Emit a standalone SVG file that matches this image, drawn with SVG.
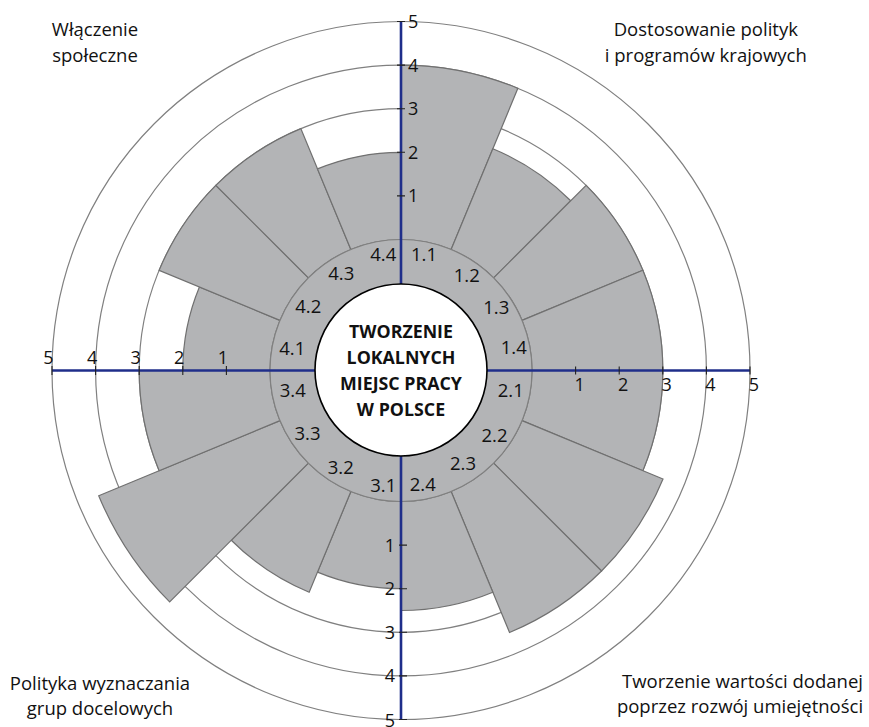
<svg xmlns="http://www.w3.org/2000/svg" width="869" height="727" viewBox="0 0 869 727">
<style>
.bg{fill:#ffffff}
.grid{fill:none;stroke:#808080;stroke-width:1.2}
.bar{fill:#b3b4b6;stroke:#707070;stroke-width:1.2;stroke-linejoin:miter}
.ring{fill:#b3b4b6;stroke:#808080;stroke-width:1.2}
.axis{stroke:#1f2e8a;stroke-width:2.6;fill:none}
.tick{stroke:#222;stroke-width:1.1}
.hub{fill:#ffffff;stroke:#000;stroke-width:1.6}
.t{font-family:"Open Sans","Noto Sans","Liberation Sans",sans-serif;fill:#111}
.num{font-size:18px}
.seg{font-size:18.5px;text-anchor:middle}
.corner{font-size:18.5px;text-anchor:middle}
.title{font-size:17.8px;font-weight:bold;text-anchor:middle}
</style>
<rect class="bg" x="0" y="0" width="869" height="727"/>
<g id="grid">
<circle class="grid" cx="401" cy="370.5" r="261.8"/>
<circle class="grid" cx="401" cy="370.5" r="305.4"/>
<circle class="grid" cx="401" cy="370.5" r="349"/>
</g>
<g id="bars">
<path id="bar-1.1" class="bar" d="M401,239.5 L401,65.1 A305.4,305.4 0 0 1 517.87,88.35 L451.13,249.47 A131,131 0 0 0 401,239.5 Z"/>
<path id="bar-1.2" class="bar" d="M451.13,249.47 L492.84,148.77 A240,240 0 0 1 570.71,200.79 L493.63,277.87 A131,131 0 0 0 451.13,249.47 Z"/>
<path id="bar-1.3" class="bar" d="M493.63,277.87 L586.12,185.38 A261.8,261.8 0 0 1 642.87,270.31 L522.03,320.37 A131,131 0 0 0 493.63,277.87 Z"/>
<path id="bar-1.4" class="bar" d="M522.03,320.37 L642.87,270.31 A261.8,261.8 0 0 1 662.8,370.5 L532,370.5 A131,131 0 0 0 522.03,320.37 Z"/>
<path id="bar-2.1" class="bar" d="M532,370.5 L662.8,370.5 A261.8,261.8 0 0 1 642.87,470.69 L522.03,420.63 A131,131 0 0 0 532,370.5 Z"/>
<path id="bar-2.2" class="bar" d="M522.03,420.63 L663.01,479.03 A283.6,283.6 0 0 1 601.54,571.04 L493.63,463.13 A131,131 0 0 0 522.03,420.63 Z"/>
<path id="bar-2.3" class="bar" d="M493.63,463.13 L601.54,571.04 A283.6,283.6 0 0 1 509.53,632.51 L451.13,491.53 A131,131 0 0 0 493.63,463.13 Z"/>
<path id="bar-2.4" class="bar" d="M451.13,491.53 L492.84,592.23 A240,240 0 0 1 401,610.5 L401,501.5 A131,131 0 0 0 451.13,491.53 Z"/>
<path id="bar-3.1" class="bar" d="M401,501.5 L401,588.7 A218.2,218.2 0 0 1 317.5,572.09 L350.87,491.53 A131,131 0 0 0 401,501.5 Z"/>
<path id="bar-3.2" class="bar" d="M350.87,491.53 L309.16,592.23 A240,240 0 0 1 231.29,540.21 L308.37,463.13 A131,131 0 0 0 350.87,491.53 Z"/>
<path id="bar-3.3" class="bar" d="M308.37,463.13 L169.63,601.87 A327.2,327.2 0 0 1 98.71,495.71 L279.97,420.63 A131,131 0 0 0 308.37,463.13 Z"/>
<path id="bar-3.4" class="bar" d="M279.97,420.63 L159.13,470.69 A261.8,261.8 0 0 1 139.2,370.5 L270,370.5 A131,131 0 0 0 279.97,420.63 Z"/>
<path id="bar-4.1" class="bar" d="M270,370.5 L182.8,370.5 A218.2,218.2 0 0 1 199.41,287 L279.97,320.37 A131,131 0 0 0 270,370.5 Z"/>
<path id="bar-4.2" class="bar" d="M279.97,320.37 L159.13,270.31 A261.8,261.8 0 0 1 215.88,185.38 L308.37,277.87 A131,131 0 0 0 279.97,320.37 Z"/>
<path id="bar-4.3" class="bar" d="M308.37,277.87 L215.88,185.38 A261.8,261.8 0 0 1 300.81,128.63 L350.87,249.47 A131,131 0 0 0 308.37,277.87 Z"/>
<path id="bar-4.4" class="bar" d="M350.87,249.47 L317.5,168.91 A218.2,218.2 0 0 1 401,152.3 L401,239.5 A131,131 0 0 0 350.87,249.47 Z"/>
</g>
<g id="ring">
<circle class="ring" cx="401" cy="370.5" r="131"/>
</g>
<g id="axes">
<line class="axis" x1="401" y1="21.5" x2="401" y2="719.5"/>
<line class="axis" x1="52" y1="370.5" x2="750" y2="370.5"/>
</g>
<g id="ticks">
<path class="tick" d="M397,195.9h8M397,152.3h8M397,108.7h8M397,65.1h8M397,21.5h8"/>
<path class="tick" d="M399,545.1h8M399,588.7h8M399,632.3h8M399,675.9h8M399,719.5h8"/>
<path class="tick" d="M575.6,366.5v8M619.2,366.5v8M662.8,366.5v8M706.4,366.5v8M750,366.5v8"/>
<path class="tick" d="M226.4,366v9M182.8,366v9M139.2,366v9M95.6,366v9M52,366v9"/>
</g>
<g id="hub">
<circle class="hub" cx="401" cy="370" r="86"/>
<text class="t title" x="401" y="338.3">TWORZENIE</text>
<text class="t title" x="401" y="364.3">LOKALNYCH</text>
<text class="t title" x="401" y="390">MIEJSC PRACY</text>
<text class="t title" x="401" y="416">W POLSCE</text>
</g>
<g id="axis-labels" class="t num">
<text x="408" y="202.3">1</text>
<text x="408" y="158.7">2</text>
<text x="408" y="115.1">3</text>
<text x="408" y="71.5">4</text>
<text x="408" y="27.9">5</text>
<text x="395" y="551.6" text-anchor="end">1</text>
<text x="395" y="595.2" text-anchor="end">2</text>
<text x="395" y="638.8" text-anchor="end">3</text>
<text x="395" y="682.4" text-anchor="end">4</text>
<text x="395" y="726.6" text-anchor="end">5</text>
<text x="574.4" y="390.5">1</text>
<text x="618" y="390.5">2</text>
<text x="661.6" y="390.5">3</text>
<text x="705.2" y="390.5">4</text>
<text x="748.8" y="390.5">5</text>
<text x="228" y="364" text-anchor="end">1</text>
<text x="184.4" y="364" text-anchor="end">2</text>
<text x="140.8" y="364" text-anchor="end">3</text>
<text x="97.2" y="364" text-anchor="end">4</text>
<text x="53.6" y="364" text-anchor="end">5</text>
</g>
<g id="segment-labels" class="t seg">
<text x="424" y="261">1.1</text>
<text x="466.7" y="282">1.2</text>
<text x="496.3" y="314.3">1.3</text>
<text x="513.7" y="353.6">1.4</text>
<text x="510.8" y="397">2.1</text>
<text x="494.5" y="442">2.2</text>
<text x="463" y="470.3">2.3</text>
<text x="422.7" y="491">2.4</text>
<text x="383.3" y="492">3.1</text>
<text x="340.8" y="473.6">3.2</text>
<text x="307.5" y="439.6">3.3</text>
<text x="292.7" y="397">3.4</text>
<text x="292.2" y="355.3">4.1</text>
<text x="308.3" y="313">4.2</text>
<text x="341.3" y="280.3">4.3</text>
<text x="383.3" y="261">4.4</text>
</g>
<g id="corner-labels" class="t corner">
<text x="95" y="35.7">Włączenie</text>
<text x="95" y="61.7">społeczne</text>
<text x="705.8" y="36">Dostosowanie polityk</text>
<text x="705.8" y="62.3">i programów krajowych</text>
<text x="100" y="690">Polityka wyznaczania</text>
<text x="100" y="715">grup docelowych</text>
<text x="742.5" y="688.3">Tworzenie wartości dodanej</text>
<text x="740" y="713.3">poprzez rozwój umiejętności</text>
</g>
</svg>
